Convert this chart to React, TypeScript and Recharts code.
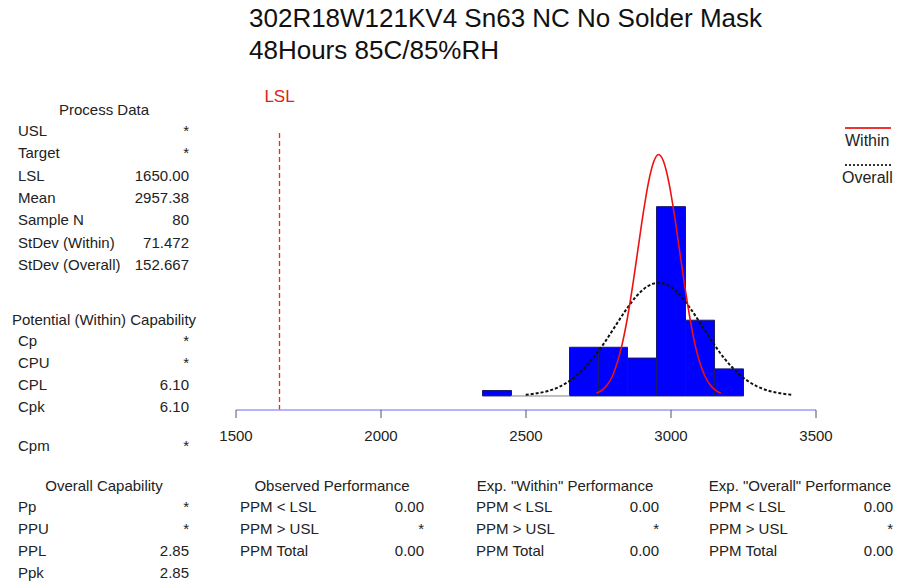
import React from 'react';
import { ComposedChart, Line, XAxis, YAxis, ReferenceArea, ReferenceLine } from 'recharts';

// ---- Data ----
const titleLines = ['302R18W121KV4 Sn63 NC No Solder Mask', '48Hours 85C/85%RH'];

const binStarts = [2350, 2450, 2550, 2650, 2750, 2850, 2950, 3050, 3150];
const binCounts = [1, 0, 0, 9, 9, 7, 35, 14, 5];
const binWidth = 100;

const withinX = [2743, 2761, 2779, 2797, 2814, 2832, 2850, 2868, 2886, 2904, 2922, 2940, 2957, 2975, 2993, 3011, 3029, 3047, 3065, 3082, 3100, 3118, 3136, 3154, 3172];
const withinY = [0.5, 1.02, 1.96, 3.55, 6.04, 9.66, 14.5, 20.44, 27.08, 33.7, 39.4, 43.27, 44.65, 43.27, 39.4, 33.7, 27.08, 20.44, 14.5, 9.66, 6.04, 3.55, 1.96, 1.02, 0.5];

const overallX = [2499, 2538, 2576, 2614, 2652, 2690, 2728, 2767, 2805, 2843, 2881, 2919, 2957, 2996, 3034, 3072, 3110, 3148, 3186, 3225, 3263, 3301, 3339, 3377, 3415];
const overallY = [0.23, 0.48, 0.92, 1.66, 2.83, 4.52, 6.79, 9.57, 12.68, 15.78, 18.45, 20.27, 20.91, 20.27, 18.45, 15.78, 12.68, 9.57, 6.79, 4.52, 2.83, 1.66, 0.92, 0.48, 0.23];

const xTicks = [1500, 2000, 2500, 3000, 3500];
const lslValue = 1650;

const processLabels = ['USL', 'Target', 'LSL', 'Mean', 'Sample N', 'StDev (Within)', 'StDev (Overall)'];
const processValues = ['*', '*', '1650.00', '2957.38', '80', '71.472', '152.667'];

const potentialLabels = ['Cp', 'CPU', 'CPL', 'Cpk'];
const potentialValues = ['*', '*', '6.10', '6.10'];
const cpmLabel = 'Cpm';
const cpmValue = '*';

const overallLabels = ['Pp', 'PPU', 'PPL', 'Ppk'];
const overallValues = ['*', '*', '2.85', '2.85'];

const perfHeaders = ['Observed Performance', 'Exp. "Within" Performance', 'Exp. "Overall" Performance'];
const perfLabels = ['PPM < LSL', 'PPM > USL', 'PPM Total'];
const perfValues = [
  ['0.00', '*', '0.00'],
  ['0.00', '*', '0.00'],
  ['0.00', '*', '0.00'],
];

const withinData = withinX.map((x, i) => ({ x, y: withinY[i] }));
const overallData = overallX.map((x, i) => ({ x, y: overallY[i] }));

const FONT = '"Liberation Sans", Arial, sans-serif';
const TEXT = '#222';

type TProps = { x: number; y: number; children: React.ReactNode; align?: 'left' | 'right' | 'center'; size?: number; color?: string };
function T({ x, y, children, align = 'left', size = 15, color = TEXT }: TProps) {
  const lh = 20;
  const style: React.CSSProperties = {
    position: 'absolute',
    top: y - lh / 2,
    height: lh,
    lineHeight: lh + 'px',
    fontSize: size,
    color,
    whiteSpace: 'nowrap',
  };
  if (align === 'left') {
    style.left = x;
  } else if (align === 'right') {
    style.left = x - 300;
    style.width = 300;
    style.textAlign = 'right';
  } else {
    style.left = x - 200;
    style.width = 400;
    style.textAlign = 'center';
  }
  return <div style={style}>{children}</div>;
}

export default function App() {
  return (
    <div style={{ position: 'absolute', left: 0, top: 0, width: 912, height: 584, background: '#fff', fontFamily: FONT, overflow: 'hidden' }}>
      <div style={{ position: 'absolute', left: 0, top: 0 }}>
        <ComposedChart width={912} height={584} margin={{ top: 132, right: 96, left: 236, bottom: 144 }}>
          <XAxis
            type="number"
            dataKey="x"
            domain={[1500, 3500]}
            ticks={xTicks}
            allowDataOverflow
            height={30}
            axisLine={{ stroke: '#9a9aff', strokeWidth: 1.5 }}
            tickLine={{ stroke: '#555' }}
            tickSize={8}
            tickMargin={12}
            tick={{ fill: TEXT, fontSize: 15, fontFamily: FONT }}
          />
          <YAxis type="number" hide domain={[-2.6, 48.8]} allowDataOverflow />
          {binStarts.map((s, i) =>
            binCounts[i] > 0 ? (
              <ReferenceArea
                key={'b' + i}
                x1={s}
                x2={s + binWidth}
                y1={0}
                y2={binCounts[i]}
                fill="#0000ff"
                fillOpacity={1}
                stroke="#1a1a6e"
                strokeWidth={1}
              />
            ) : (
              <ReferenceLine
                key={'b' + i}
                segment={[{ x: s, y: 0 }, { x: s + binWidth, y: 0 }]}
                stroke="#aaa"
                strokeWidth={1.5}
              />
            )
          )}
          <ReferenceLine
            x={lslValue}
            stroke="#ff2020"
            strokeOpacity={1}
            strokeDasharray="5 3"
            strokeWidth={1.3}
            label={{ value: 'LSL', position: 'top', fill: '#e02020', fontSize: 17, fontFamily: FONT, offset: 30 }}
          />
          <Line data={overallData} dataKey="y" type="monotone" stroke="#111" strokeWidth={2} strokeDasharray="3 2" dot={false} isAnimationActive={false} />
          <Line data={withinData} dataKey="y" type="monotone" stroke="#ee1111" strokeWidth={1.6} dot={false} isAnimationActive={false} />
        </ComposedChart>
      </div>

      {/* Title */}
      <T x={249} y={18} size={26} color="#111">{titleLines[0]}</T>
      <T x={249} y={50} size={26} color="#111">{titleLines[1]}</T>

      {/* Legend */}
      <div style={{ position: 'absolute', left: 845, top: 127, width: 46, height: 0, borderTop: '2px solid #ee3333' }} />
      <T x={845} y={141} size={16}>Within</T>
      <div style={{ position: 'absolute', left: 845, top: 164, width: 46, height: 0, borderTop: '2px dotted #333' }} />
      <T x={842} y={178} size={16}>Overall</T>

      {/* Process data */}
      <T x={104} y={110} align="center">Process Data</T>
      {processLabels.map((l, i) => (
        <React.Fragment key={'p' + i}>
          <T x={18} y={131 + i * 22.3}>{l}</T>
          <T x={189} y={131 + i * 22.3} align="right">{processValues[i]}</T>
        </React.Fragment>
      ))}

      <T x={104} y={320} align="center">Potential (Within) Capability</T>
      {potentialLabels.map((l, i) => (
        <React.Fragment key={'c' + i}>
          <T x={18} y={341 + i * 22} >{l}</T>
          <T x={189} y={341 + i * 22} align="right">{potentialValues[i]}</T>
        </React.Fragment>
      ))}
      <T x={18} y={446}>{cpmLabel}</T>
      <T x={189} y={446} align="right">{cpmValue}</T>

      <T x={104} y={486} align="center">Overall Capability</T>
      {overallLabels.map((l, i) => (
        <React.Fragment key={'o' + i}>
          <T x={18} y={507 + i * 22}>{l}</T>
          <T x={189} y={507 + i * 22} align="right">{overallValues[i]}</T>
        </React.Fragment>
      ))}

      {/* Performance tables */}
      {perfHeaders.map((h, c) => {
        const left = [240, 476, 709][c];
        const right = [424, 659, 893][c];
        const center = [332, 565, 800][c];
        return (
          <React.Fragment key={'h' + c}>
            <T x={center} y={486} align="center">{h}</T>
            {perfLabels.map((l, r) => (
              <React.Fragment key={'r' + r}>
                <T x={left} y={507 + r * 22}>{l}</T>
                <T x={right} y={507 + r * 22} align="right">{perfValues[c][r]}</T>
              </React.Fragment>
            ))}
          </React.Fragment>
        );
      })}
    </div>
  );
}
